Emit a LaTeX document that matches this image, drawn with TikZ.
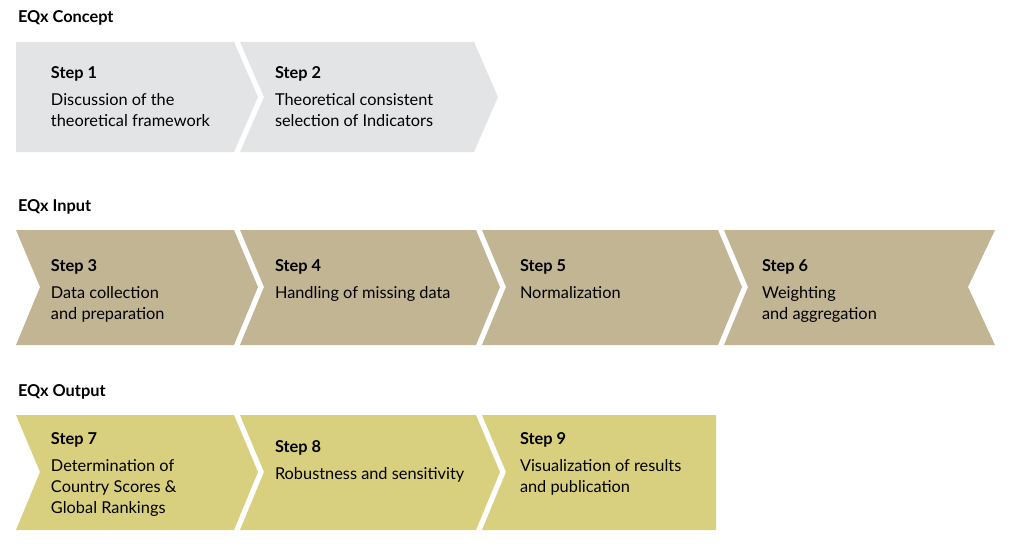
\documentclass[tikz,border=0pt]{standalone}
\usepackage{fontspec}
\setmainfont{Lato}
\definecolor{concept}{HTML}{E3E4E6}
\definecolor{input}{HTML}{C2B593}
\definecolor{output}{HTML}{D8D07E}
\begin{document}
\begin{tikzpicture}[x=0.02cm, y=-0.02cm, every node/.style={inner sep=0pt, outer sep=0pt, anchor=north west, align=left, font=\fontsize{9.3}{12}\selectfont}, head/.style={font=\fontsize{9.3}{12}\selectfont\bfseries}]
        \useasboundingbox (0, 0) rectangle (1024, 544);

        % EQx Concept
        \node[head] (concept) at (18, 11) {EQx Concept};
        \fill[concept] (16, 42) -- (234, 42) -- (258, 97) -- (234, 152) -- (16, 152) -- cycle;
        \fill[concept] (240, 42) -- (474, 42) -- (498, 97) -- (474, 152) -- (240, 152) -- (264, 97) -- cycle;
        \node (s1) at (51, 67) {\textbf{Step 1}\\[3pt]Discussion of the\\theoretical framework};
        \node (s2) at (275, 67) {\textbf{Step 2}\\[3pt]Theoretical consistent\\selection of Indicators};

        % EQx Input
        \node[head] (input) at (18, 200) {EQx Input};
        \fill[input] (16, 230) -- (234, 230) -- (258, 287) -- (234, 345) -- (16, 345) -- (40, 287) -- cycle;
        \fill[input] (240, 230) -- (476, 230) -- (500, 287) -- (476, 345) -- (240, 345) -- (264, 287) -- cycle;
        \fill[input] (482, 230) -- (718, 230) -- (742, 287) -- (718, 345) -- (482, 345) -- (506, 287) -- cycle;
        \fill[input] (724, 230) -- (995, 230) -- (968, 287) -- (995, 345) -- (724, 345) -- (748, 287) -- cycle;
        \node (s3) at (51, 260) {\textbf{Step 3}\\[3pt]Data collection\\and preparation};
        \node (s4) at (275, 260) {\textbf{Step 4}\\[3pt]Handling of missing data};
        \node (s5) at (520, 260) {\textbf{Step 5}\\[3pt]Normalization};
        \node (s6) at (762, 260) {\textbf{Step 6}\\[3pt]Weighting\\and aggregation};

        % EQx Output
        \node[head] (output) at (18, 385) {EQx Output};
        \fill[output] (16, 415) -- (234, 415) -- (258, 472) -- (234, 530) -- (16, 530) -- (40, 472) -- cycle;
        \fill[output] (240, 415) -- (476, 415) -- (500, 472) -- (476, 530) -- (240, 530) -- (264, 472) -- cycle;
        \fill[output] (482, 415) -- (716, 415) -- (716, 530) -- (482, 530) -- (506, 472) -- cycle;
        \node (s7) at (51, 433) {\textbf{Step 7}\\[3pt]Determination of\\Country Scores \&\\Global Rankings};
        \node (s8) at (275, 441) {\textbf{Step 8}\\[3pt]Robustness and sensitivity};
        \node (s9) at (520, 433) {\textbf{Step 9}\\[3pt]Visualization of results\\and publication};
    \end{tikzpicture}
\end{document}
